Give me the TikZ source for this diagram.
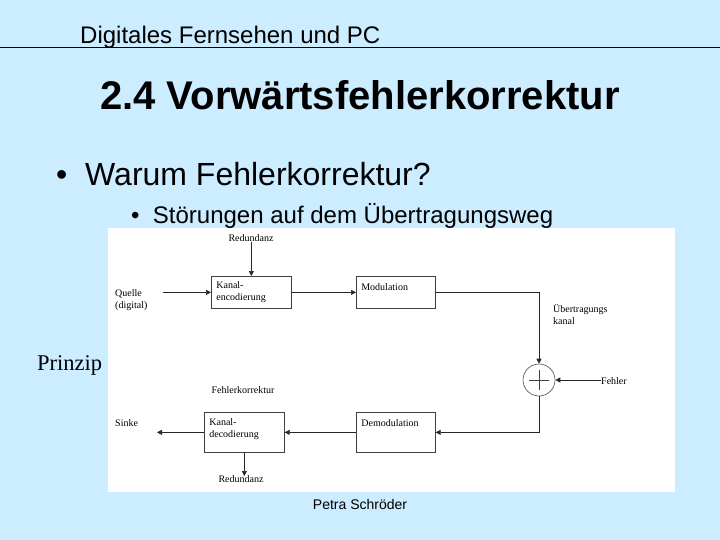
\documentclass[tikz,border=0pt]{standalone}
\usepackage{fontspec}
\setmainfont{Liberation Sans}
\newfontfamily\dserif{Liberation Serif}
\usetikzlibrary{arrows.meta}
\definecolor{slidebg}{RGB}{204,236,255}
\begin{document}
\begin{tikzpicture}[x=1pt,y=-1pt,
  blk/.style={draw=black!75, line width=0.7pt, fill=white, anchor=north west,
    inner xsep=5pt, inner ysep=3pt, align=left, font=\dserif\fontsize{10}{12}\selectfont},
  lbl/.style={font=\dserif\fontsize{10}{12}\selectfont, inner sep=0pt, align=left},
  arr/.style={draw=black!85, line width=0.7pt, -{Triangle[length=5pt,width=5pt]}},
  ln/.style={draw=black!85, line width=0.7pt}]
\useasboundingbox (0,0) rectangle (720,540);
\fill[slidebg] (0,0) rectangle (720,540);
% header
\node[anchor=base west, inner sep=0pt, font=\fontsize{24}{27}\selectfont] (hdr) at (80,44) {Digitales Fernsehen und PC};
\draw[line width=1pt] (0,47.5) -- (720,47.5);
\node[anchor=base west, inner sep=0pt, font=\bfseries\fontsize{40}{44}\selectfont] (title) at (100,110) {2.4 Vorwärtsfehlerkorrektur};
\node[anchor=base west, inner sep=0pt, font=\fontsize{32}{36}\selectfont] (b1) at (56,186) {\textbullet\ \ Warum Fehlerkorrektur?};
\node[anchor=base west, inner sep=0pt, font=\fontsize{24}{28}\selectfont] (b2) at (131,224) {\textbullet\ \ Störungen auf dem Übertragungsweg};
\node[anchor=base west, inner sep=0pt, font=\dserif\fontsize{22.5}{26}\selectfont] (prz) at (37,370) {Prinzip};
% white panel
\fill[white] (108,228) rectangle (675,492);
% blocks
\node[blk, minimum width=80pt, minimum height=32pt, text width=70pt] (enc) at (211,276) {Kanal-\\encodierung};
\node[blk, minimum width=79pt, minimum height=32pt, text width=69pt] (mod) at (356,276) {Modulation\\[-2pt]~};
\node[blk, minimum width=80pt, minimum height=40pt, text width=70pt] (dec) at (204,412) {Kanal-\\decodierung\\[-4pt]~};
\node[blk, minimum width=79pt, minimum height=40pt, text width=69pt] (dem) at (356,412) {Demodulation\\[6pt]~};
\node[draw=black!70, line width=0.6pt, circle, minimum size=32pt, inner sep=0pt] (sum) at (539,380) {};
\draw[black!75, line width=0.5pt] ([xshift=-10pt]sum.center) -- ([xshift=10pt]sum.center)
  ([yshift=-10pt]sum.center) -- ([yshift=10pt]sum.center);
% labels
\node[lbl] (red1) at (251,238) {Redundanz};
\node[lbl, anchor=west] (src) at (115,300) {Quelle\\(digital)};
\node[lbl, anchor=north west] (kan) at (553,304) {Übertragungs\\kanal};
\node[lbl, anchor=west] (feh) at (601,381) {Fehler};
\node[lbl] (fk) at (243,390) {Fehlerkorrektur};
\node[lbl, anchor=west] (snk) at (115,423) {Sinke};
\node[lbl] (red2) at (241,479) {Redundanz};
\coordinate (qa) at (163,292);
\coordinate (sa) at (157,432);
\coordinate (ra) at (244,476);
% connectors
\draw[arr] (red1.south -| enc.north) -- (enc.north);
\draw[arr] (qa |- enc.west) -- (enc.west);
\draw[arr] (enc.east) -- (mod.west);
\draw[arr] (mod.east) -| (sum.north);
\draw[arr] (feh.west |- sum.east) -- (sum.east);
\draw[arr] (sum.south) |- (dem.east);
\draw[arr] (dem.west) -- (dec.east);
\draw[arr] (dec.west) -- (dec.west -| sa);
\draw[arr] (dec.south) -- (dec.south |- ra);
% footer
\node[inner sep=0pt, font=\fontsize{14}{16}\selectfont] (ft) at (360,504) {Petra Schröder};
\end{tikzpicture}
\end{document}
